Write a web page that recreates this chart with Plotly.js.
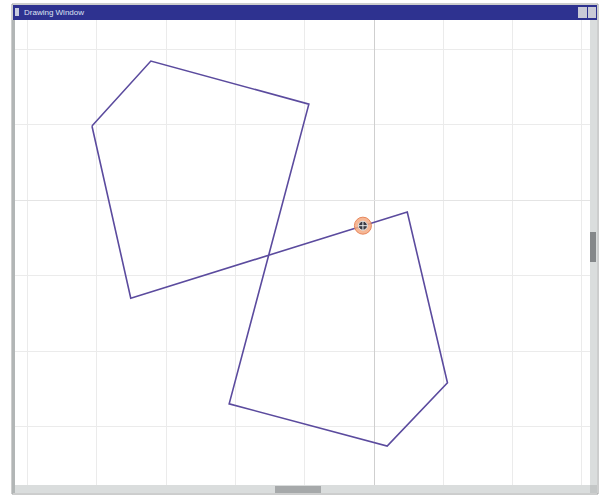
<!DOCTYPE html>
<html>
<head>
<meta charset="utf-8">
<script src="https://cdn.plot.ly/plotly-3.0.1.min.js"></script>
<style>html,body{margin:0;padding:0;background:#fff}#chart{width:605px;height:499px}</style>
</head>
<body>
<div id="chart"></div>
<script>
// Path vertices in grid units (one grid cell = 1 unit)
const pathX = [-4.07, -3.22, -0.94, -2.09, 0.19, 1.06, 0.48, -3.51, -4.07];
const pathY = [0.98, 1.84, 1.27, -2.70, -3.26, -2.42, -0.16, -1.30, 0.98];
// Cursor / selected point
const cursorX = [-0.16];
const cursorY = [-0.34];
const windowTitle = "Drawing Window";

const L = 15, T = 20, PW = 575, PH = 465;
const px = x => (x - L) / PW;
const py = y => (T + PH - y) / PH;
function rect(x0, y0, x1, y1, fill, line) {
  return {type: 'rect', xref: 'paper', yref: 'paper', x0: px(x0), x1: px(x1), y0: py(y1), y1: py(y0),
    fillcolor: fill, line: line ? {color: line, width: 1} : {width: 0}, layer: 'above'};
}

const traces = [
  {x: pathX, y: pathY, type: 'scatter', mode: 'lines',
   line: {color: '#5b4b9e', width: 1.6}, hoverinfo: 'skip'},
  {x: cursorX, y: cursorY, type: 'scatter', mode: 'markers',
   marker: {size: 17, color: 'rgba(245,170,130,0.85)', line: {color: '#e8865a', width: 1}}, hoverinfo: 'skip'},
  {x: cursorX, y: cursorY, type: 'scatter', mode: 'markers',
   marker: {size: 9, symbol: 'circle-cross', color: '#3a3a44', line: {color: '#e8e8e8', width: 1}}, hoverinfo: 'skip'}
];

const layout = {
  width: 605, height: 499,
  margin: {l: L, r: 605 - L - PW, t: T, b: 499 - T - PH},
  paper_bgcolor: '#ffffff', plot_bgcolor: '#ffffff',
  showlegend: false,
  xaxis: {range: [(15 - 374) / 69.3, (590 - 374) / 69.3], dtick: 1, tick0: 0,
    showgrid: true, gridcolor: '#ebebeb', gridwidth: 1,
    zeroline: true, zerolinecolor: '#cfcfcf', zerolinewidth: 1,
    showticklabels: false, ticks: '', showline: false, fixedrange: true},
  yaxis: {range: [(200 - 485) / 75.5, (200 - 20) / 75.5], dtick: 1, tick0: 0,
    showgrid: true, gridcolor: '#ebebeb', gridwidth: 1,
    zeroline: true, zerolinecolor: '#e4e4e4', zerolinewidth: 1,
    showticklabels: false, ticks: '', showline: false, fixedrange: true},
  shapes: [
    rect(12, 4, 598, 494, 'rgba(0,0,0,0)', '#9a9c9c'),
    rect(13, 5, 597, 20, '#2e3290'),
    rect(15, 8, 19, 16, '#c8cce0'),
    rect(578, 7, 587, 18, '#c9cad6'),
    rect(588, 7, 596, 18, '#c9cad6'),
    rect(12, 20, 15, 493, '#b2b6b6'),
    rect(590, 20, 597, 485, '#dadddd'),
    rect(590, 232, 596, 262, '#85888a'),
    rect(15, 485, 590, 493, '#dadddd'),
    rect(275, 486, 321, 493, '#a6a9aa'),
    rect(590, 485, 597, 493, '#c4c7c7')
  ],
  annotations: [
    {xref: 'paper', yref: 'paper', x: px(22), y: py(12.5), xanchor: 'left', yanchor: 'middle',
     text: windowTitle, showarrow: false, font: {family: 'Liberation Sans, Arial, sans-serif', size: 8, color: '#dfe2f2'}}
  ]
};

Plotly.newPlot('chart', traces, layout, {displayModeBar: false, staticPlot: true});
</script>
</body>
</html>
